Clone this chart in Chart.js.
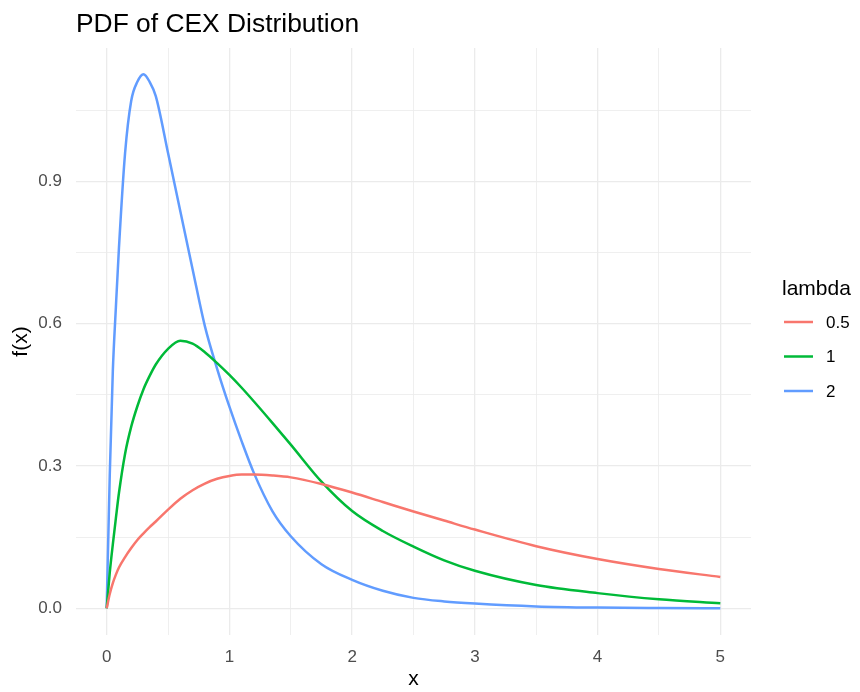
<!DOCTYPE html>
<html>
<head>
<meta charset="utf-8">
<script src="https://cdn.jsdelivr.net/npm/chart.js@4.4.1/dist/chart.umd.min.js"></script>
<style>
  body { margin: 0; background: #fff; }
  canvas { display: block; }
</style>
</head>
<body>
<canvas id="cexChart" width="860" height="692"></canvas>
<script>
// values
const xValues = [0, 0.025, 0.05, 0.075, 0.1, 0.15, 0.2, 0.25, 0.3, 0.35, 0.4, 0.5, 0.6, 0.7, 0.8, 0.9, 1.0, 1.1, 1.2, 1.35, 1.5, 1.75, 2.0, 2.25, 2.5, 2.75, 3.0, 3.5, 4.0, 4.5, 5.0];
const lambdaHalf = [0, 0.03, 0.053, 0.071, 0.086, 0.108, 0.127, 0.144, 0.158, 0.171, 0.183, 0.208, 0.231, 0.249, 0.263, 0.273, 0.279, 0.282, 0.282, 0.280, 0.276, 0.262, 0.244, 0.224, 0.204, 0.185, 0.166, 0.131, 0.104, 0.083, 0.066];
const lambdaOne = [0, 0.075, 0.135, 0.19, 0.243, 0.326, 0.383, 0.426, 0.462, 0.49, 0.514, 0.547, 0.564, 0.558, 0.54, 0.517, 0.492, 0.465, 0.436, 0.391, 0.345, 0.267, 0.205, 0.163, 0.13, 0.101, 0.079, 0.049, 0.032, 0.019, 0.0105];
const lambdaTwo = [0, 0.28, 0.50, 0.635, 0.76, 0.96, 1.07, 1.11, 1.126, 1.11, 1.08, 0.96, 0.837, 0.715, 0.595, 0.505, 0.425, 0.352, 0.285, 0.205, 0.152, 0.093, 0.06, 0.037, 0.022, 0.0145, 0.010, 0.004, 0.0015, 0.0006, 0.0002];
const seriesNames = ['0.5', '1', '2'];

const xGridTicks = [0, 0.5, 1, 1.5, 2, 2.5, 3, 3.5, 4, 4.5, 5];
const xTickLabels = ['0', '', '1', '', '2', '', '3', '', '4', '', '5'];
const yGridTicks = [0, 0.15, 0.3, 0.45, 0.6, 0.75, 0.9, 1.05];
const yTickLabels = ['0.0', '', '0.3', '', '0.6', '', '0.9', ''];

const FONT = "'Liberation Sans', Arial, sans-serif";
const colors = ['#F8766D', '#00BA38', '#619CFF'];

function toPoints(ys) {
    return xValues.map((x, i) => ({ x: x, y: ys[i] }));
}

// title and legend drawn ggplot-style
const ggDecor = {
    id: 'ggDecor',
    afterDraw(chart) {
        const ctx = chart.ctx;
        ctx.save();
        ctx.fillStyle = '#000';
        ctx.textAlign = 'left';
        ctx.textBaseline = 'alphabetic';
        ctx.font = '26.4px ' + FONT;
        ctx.fillText('PDF of CEX Distribution', 76, 31.5);

        ctx.font = '21px ' + FONT;
        ctx.fillText('lambda', 782, 295);

        ctx.font = '17px ' + FONT;
        ctx.textBaseline = 'middle';
        chart.data.datasets.forEach((ds, i) => {
            const y = 322 + i * 34.5;
            ctx.strokeStyle = ds.borderColor;
            ctx.lineWidth = 2.5;
            ctx.beginPath();
            ctx.moveTo(784, y);
            ctx.lineTo(813, y);
            ctx.stroke();
            ctx.fillStyle = '#000';
            ctx.fillText(ds.label, 826, y + 1);
        });
        ctx.restore();
    }
};

function gridWidth(ticks, labels) {
    return (c) => {
        const idx = ticks.indexOf(c.tick ? c.tick.value : NaN);
        return idx >= 0 && labels[idx] !== '' ? 1.3 : 0.8;
    };
}

new Chart(document.getElementById('cexChart'), {
    type: 'line',
    data: {
        datasets: [lambdaHalf, lambdaOne, lambdaTwo].map((ys, i) => ({
            label: seriesNames[i],
            data: toPoints(ys),
            borderColor: colors[i],
            backgroundColor: colors[i],
            borderWidth: 2.5,
            pointRadius: 0,
            fill: false,
            cubicInterpolationMode: 'monotone'
        }))
    },
    options: {
        responsive: false,
        animation: false,
        layout: { padding: { top: 48, right: 109, bottom: 0, left: 0 } },
        plugins: {
            legend: { display: false },
            title: { display: false },
            tooltip: { enabled: false }
        },
        scales: {
            x: {
                type: 'linear',
                min: -0.25,
                max: 5.25,
                afterBuildTicks: (scale) => { scale.ticks = xGridTicks.map(v => ({ value: v })); },
                afterFit: (scale) => { scale.height = 57; },
                border: { display: false },
                grid: { color: '#ebebeb', lineWidth: gridWidth(xGridTicks, xTickLabels), drawTicks: false },
                ticks: {
                    padding: 12,
                    color: '#4d4d4d',
                    font: { family: FONT, size: 17 },
                    maxRotation: 0,
                    autoSkip: false,
                    callback: (v) => xTickLabels[xGridTicks.indexOf(v)] ?? ''
                },
                title: { display: true, text: 'x', color: '#000', font: { family: FONT, size: 21 }, padding: { top: 0, bottom: 0 } }
            },
            y: {
                min: -0.0563,
                max: 1.1813,
                afterBuildTicks: (scale) => { scale.ticks = yGridTicks.map(v => ({ value: v })); },
                afterFit: (scale) => { scale.width = 76; },
                border: { display: false },
                grid: { color: '#ebebeb', lineWidth: gridWidth(yGridTicks, yTickLabels), drawTicks: false },
                ticks: {
                    padding: 14,
                    color: '#4d4d4d',
                    font: { family: FONT, size: 17 },
                    autoSkip: false,
                    callback: (v) => yTickLabels[yGridTicks.indexOf(v)] ?? ''
                },
                title: { display: true, text: 'f(x)', color: '#000', font: { family: FONT, size: 21 }, padding: { top: 9, bottom: 0 } }
            }
        }
    },
    plugins: [ggDecor]
});
</script>
</body>
</html>
